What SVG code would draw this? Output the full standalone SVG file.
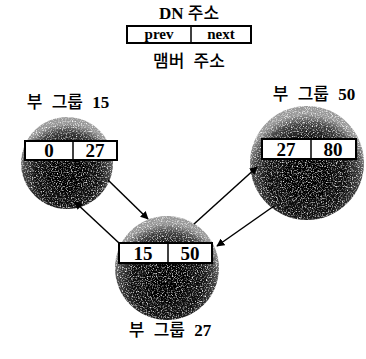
<svg xmlns="http://www.w3.org/2000/svg" width="366" height="359" viewBox="0 0 366 359">
<style>
.t{font-family:"Liberation Serif","Noto Sans CJK KR",serif;fill:#000;text-anchor:middle}
.lab{font-size:17px;word-spacing:5px;font-weight:500}
.b{font-weight:bold}
.num{font-size:19px;font-weight:bold}
.box{fill:#fff;stroke:#000;stroke-width:2}
.div{stroke:#000;stroke-width:1.5}
.blob{fill:url(#rg);filter:url(#speck)}
.conn line{stroke:#000;stroke-width:1.5;marker-end:url(#ah)}
</style>
<defs>
<radialGradient id="rg" cx="0.5" cy="0.62" r="0.55">
<stop offset="0" stop-color="#000"/>
<stop offset="0.6" stop-color="#0a0a0a"/>
<stop offset="0.85" stop-color="#444"/>
<stop offset="1" stop-color="#999"/>
</radialGradient>
<filter id="speck" x="-10%" y="-10%" width="120%" height="120%">
<feTurbulence type="fractalNoise" baseFrequency="0.8" numOctaves="2" seed="3" result="n"/>
<feColorMatrix in="n" type="matrix" values="0 0 0 0 0 0 0 0 0 0 0 0 0 0 0 0 0 0 -2.6 2.25" result="m"/>
<feComposite in="SourceGraphic" in2="m" operator="in"/>
</filter>
<marker id="ah" viewBox="0 0 10 10" refX="9" refY="5" markerWidth="8" markerHeight="8" orient="auto" markerUnits="userSpaceOnUse">
<path d="M0,0 L10,5 L0,10 Z" fill="#000"/>
</marker>
</defs>
<rect width="366" height="359" fill="#fff"/>

<g id="legend">
<text class="t" x="189" y="19" style="font-size:17px;font-weight:500"><tspan class="b">DN</tspan> 주소</text>
<rect class="box" x="127" y="26" width="124" height="17"/>
<line class="div" x1="191" y1="26" x2="191" y2="43"/>
<text class="t" x="159" y="39" style="font-size:15px;font-weight:bold">prev</text>
<text class="t" x="221" y="39" style="font-size:15px;font-weight:bold">next</text>
<text class="t lab" x="189" y="67">맴버 주소</text>
</g>

<g id="group15">
<circle class="blob" cx="67" cy="163" r="46"/>
<text class="t lab" x="68" y="108">부 그룹 <tspan class="b">15</tspan></text>
<rect class="box" x="25" y="141" width="92" height="19"/>
<line class="div" x1="73" y1="141" x2="73" y2="160"/>
<text class="t num" x="49" y="157">0</text>
<text class="t num" x="95" y="157">27</text>
</g>

<g id="group50">
<circle class="blob" cx="307" cy="163" r="57"/>
<text class="t lab" x="314" y="100">부 그룹 <tspan class="b">50</tspan></text>
<rect class="box" x="262" y="139" width="94" height="20"/>
<line class="div" x1="311" y1="139" x2="311" y2="159"/>
<text class="t num" x="286" y="156">27</text>
<text class="t num" x="333" y="156">80</text>
</g>

<g id="group27">
<circle class="blob" cx="167" cy="268" r="52"/>
<text class="t lab" x="170" y="336">부 그룹 <tspan class="b">27</tspan></text>
<rect class="box" x="119" y="243" width="93" height="20"/>
<line class="div" x1="168" y1="243" x2="168" y2="263"/>
<text class="t num" x="143" y="260">15</text>
<text class="t num" x="190" y="260">50</text>
</g>

<g class="conn" id="connectors">
<line x1="108" y1="180" x2="148" y2="219"/>
<line x1="119" y1="243" x2="75" y2="202"/>
<line x1="194" y1="224" x2="257" y2="167"/>
<line x1="274" y1="206" x2="217" y2="246"/>
</g>
</svg>
